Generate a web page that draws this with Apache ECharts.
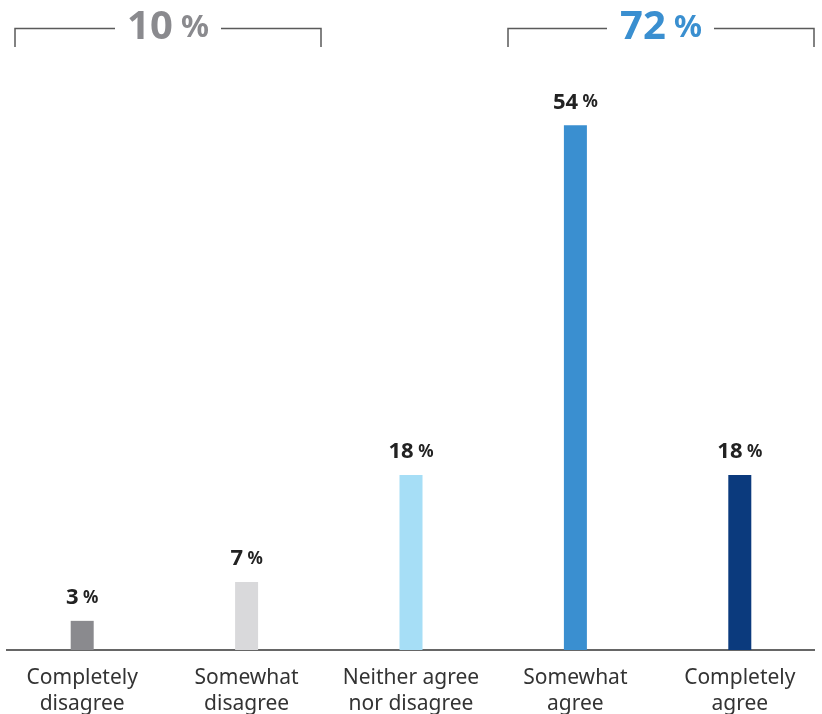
<!DOCTYPE html>
<html>
<head>
<meta charset="utf-8">
<script src="https://cdn.jsdelivr.net/npm/echarts@6/dist/echarts.min.js"></script>
<style>
  html, body { margin: 0; padding: 0; background: #ffffff; }
  #chart { width: 822px; height: 714px; }
</style>
</head>
<body>
<div id="chart"></div>
<script>
// Survey answers, in percent
const categories = [
  'Completely\ndisagree',
  'Somewhat\ndisagree',
  'Neither agree\nnor disagree',
  'Somewhat\nagree',
  'Completely\nagree'
];
const values = [3, 7, 18, 54, 18];
const barColors = ['#8a8a8e', '#d9d9db', '#a6def6', '#3a8fd0', '#0b3a7d'];

// Grouped totals shown above the brackets
const disagreeTotal = values[0] + values[1];
const agreeTotal = values[3] + values[4];

const FONT = '"Noto Sans", "DejaVu Sans", sans-serif';
const chart = echarts.init(document.getElementById('chart'));

const bracketLine = { stroke: '#5a5a5a', lineWidth: 1.5, fill: null };

function bracket(x1, x2, gapL, gapR, total, color) {
  const y = 28.5, yb = 47;
  return [
    { type: 'polyline', shape: { points: [[x1, yb], [x1, y], [gapL, y]] }, style: bracketLine, silent: true },
    { type: 'polyline', shape: { points: [[gapR, y], [x2, y], [x2, yb]] }, style: bracketLine, silent: true },
    {
      type: 'text', x: (x1 + x2) / 2, y: 28, silent: true,
      style: {
        text: '{n|' + total + '}{p| %}',
        align: 'center', verticalAlign: 'middle',
        rich: {
          n: { fontFamily: FONT, fontWeight: 'bold', fontSize: 40, fill: color },
          p: { fontFamily: FONT, fontWeight: 'bold', fontSize: 31, fill: color }
        }
      }
    }
  ];
}

chart.setOption({
  animation: false,
  backgroundColor: '#ffffff',
  grid: { left: 0, right: 0, top: 67, bottom: 64, outerBoundsMode: 'none', containLabel: false },
  xAxis: {
    type: 'category',
    data: categories,
    axisLine: { show: false },
    axisTick: { show: false },
    axisLabel: {
      interval: 0,
      margin: 15,
      fontFamily: FONT,
      fontSize: 21,
      lineHeight: 26,
      color: '#333333'
    }
  },
  yAxis: {
    type: 'value',
    min: 0,
    max: 60,
    show: false,
    splitLine: { show: false }
  },
  series: [{
    type: 'bar',
    barWidth: 23,
    data: values.map((v, i) => ({ value: v, itemStyle: { color: barColors[i] } })),
    label: {
      show: true,
      position: 'top',
      distance: 12,
      formatter: p => '{n|' + p.value + '}{p| %}',
      rich: {
        n: { fontFamily: FONT, fontWeight: 'bold', fontSize: 22, color: '#222222' },
        p: { fontFamily: FONT, fontWeight: 'bold', fontSize: 17, color: '#222222' }
      }
    }
  }],
  graphic: [
    // baseline
    { type: 'line', shape: { x1: 6, y1: 650, x2: 815, y2: 650 }, style: { stroke: '#333333', lineWidth: 1.5 }, silent: true },
    ...bracket(15, 321, 115, 221, disagreeTotal, '#8a8a8e'),
    ...bracket(508, 814, 607, 714, agreeTotal, '#3a8fd0')
  ]
});
</script>
</body>
</html>
